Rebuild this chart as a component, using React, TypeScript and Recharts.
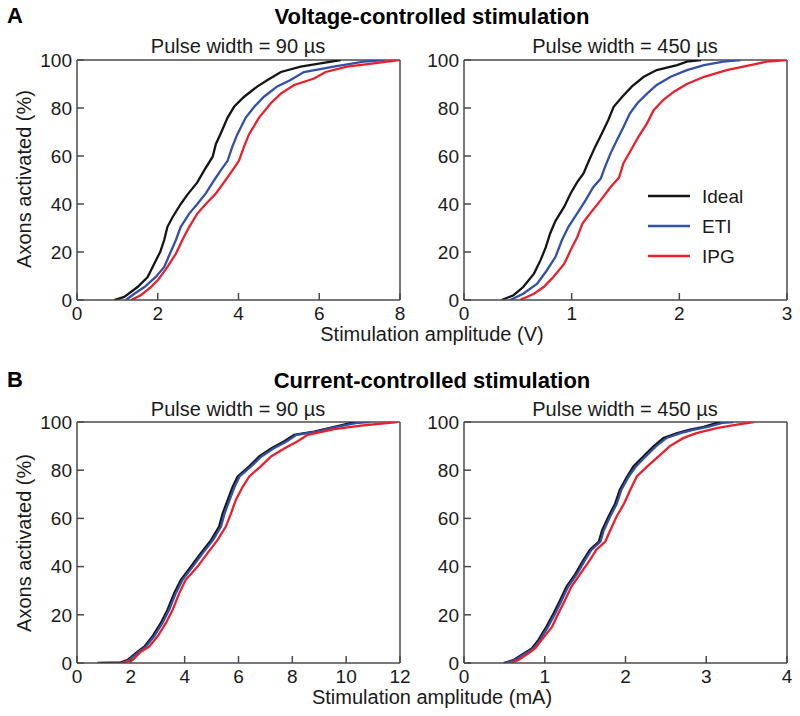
import React from 'react';
import { LineChart, Line, XAxis, YAxis, Legend, ReferenceLine } from 'recharts';

type Pt = [number, number];

// ---- data: [stimulation amplitude, % axons activated] ----
const seriesNames = ['Ideal', 'ETI', 'IPG'];

const voltage90Ideal: Pt[] = [[0.92,0],[1.17,1.3],[1.5,5.4],[1.75,9.6],[1.91,15],[2.06,20],[2.16,25],[2.24,30.5],[2.37,34.6],[2.57,40],[2.74,44],[2.98,49],[3.15,54],[3.36,59.7],[3.44,65],[3.56,69.4],[3.73,76],[3.89,80.5],[4.14,84.7],[4.47,89],[4.72,91.7],[5.05,95],[5.54,97.2],[6.03,98.6],[6.53,100]];
const voltage90Eti: Pt[] = [[1.21,0],[1.42,2.6],[1.67,5.4],[1.95,9.6],[2.16,13.8],[2.32,20],[2.45,25],[2.57,30.5],[2.78,36],[2.98,40],[3.19,44.4],[3.4,50],[3.56,54],[3.73,58],[3.85,64],[3.97,69],[4.18,76],[4.39,80.5],[4.63,84.7],[4.96,89],[5.29,91.7],[5.62,95],[6.36,97.2],[7.1,99.3],[7.6,100]];
const voltage90Ipg: Pt[] = [[1.34,0],[1.58,2],[1.83,5.4],[2.0,8.2],[2.24,13.8],[2.45,19.3],[2.61,25],[2.78,30.5],[2.98,36],[3.19,40],[3.44,44.4],[3.64,49],[3.85,54],[4.01,58],[4.14,64],[4.26,69],[4.51,76],[4.8,82],[5.05,86],[5.38,89.6],[5.87,92.3],[6.16,95],[6.69,97.2],[7.35,98.6],[7.97,100]];

const voltage450Ideal: Pt[] = [[0.35,0],[0.46,2],[0.55,5.4],[0.65,11],[0.71,16.5],[0.76,22],[0.8,27.7],[0.85,33],[0.93,38.8],[0.99,44.4],[1.05,49],[1.11,52.7],[1.16,58],[1.22,64],[1.28,69.4],[1.34,75],[1.39,80.5],[1.47,84.7],[1.56,89],[1.67,93],[1.79,95.8],[1.98,97.9],[2.07,99.3],[2.2,100]];
const voltage450Eti: Pt[] = [[0.43,0],[0.55,2.6],[0.68,6.8],[0.77,12.4],[0.85,18],[0.91,25],[0.97,30.5],[1.05,36],[1.13,41.6],[1.2,47],[1.27,50.6],[1.31,55.5],[1.36,61],[1.42,66.6],[1.48,72],[1.54,77.7],[1.61,82],[1.7,86],[1.79,89.6],[1.92,93],[2.07,95.8],[2.23,97.9],[2.41,99.3],[2.57,100]];
const voltage450Ipg: Pt[] = [[0.52,0],[0.65,2.6],[0.74,5.4],[0.83,9.6],[0.93,15],[0.99,20.7],[1.05,26],[1.1,31.8],[1.17,36],[1.27,41.6],[1.36,47],[1.44,51],[1.48,56.9],[1.55,62.4],[1.62,68],[1.7,73.6],[1.76,79],[1.85,83.3],[1.95,86.8],[2.07,90],[2.23,93],[2.44,95.8],[2.66,97.9],[2.81,99.3],[3.0,100]];

const current90Ideal: Pt[] = [[0.76,0],[1.63,0.3],[1.87,1.2],[2.25,4.7],[2.5,6.8],[2.8,11],[3.11,16.5],[3.36,22],[3.61,29],[3.86,34.5],[4.23,40],[4.6,45.6],[4.98,51],[5.28,56.6],[5.41,62],[5.6,67.7],[5.78,73],[5.97,77.4],[6.4,81.6],[6.77,85.7],[7.21,89],[7.7,92],[8.07,94.7],[8.81,96],[9.56,98],[10.18,99.6],[10.55,100]];
const current90Eti: Pt[] = [[1.7,0],[1.93,1.2],[2.31,4.7],[2.56,6.8],[2.86,11],[3.17,16.5],[3.42,22],[3.67,29],[3.92,34.5],[4.3,40],[4.67,45.6],[5.05,51],[5.35,56.6],[5.48,62],[5.67,67.7],[5.85,73],[6.04,77.4],[6.47,81.6],[6.85,85.7],[7.3,89],[7.8,92],[8.15,94.7],[8.9,96],[9.65,98],[10.4,99.6],[10.9,100]];
const current90Ipg: Pt[] = [[1.63,0],[2.06,1.2],[2.37,4.7],[2.68,6.8],[2.99,11],[3.3,16.5],[3.55,22],[3.8,29],[4.04,34.5],[4.48,40],[4.85,45.6],[5.22,51],[5.53,56.6],[5.72,62],[5.9,67.7],[6.15,73],[6.4,77.4],[6.83,81.6],[7.21,85.7],[7.7,89],[8.2,92],[8.57,94.7],[9.56,97],[10.55,98.5],[11.9,100]];

const current450Ideal: Pt[] = [[0.49,0],[0.61,1.2],[0.74,4],[0.84,6],[0.92,9.5],[1.02,15],[1.11,20.6],[1.19,26],[1.27,31.7],[1.38,37],[1.48,42.8],[1.56,47],[1.67,50.4],[1.71,55],[1.79,60.8],[1.87,66],[1.93,71.9],[2.02,77.4],[2.1,81.6],[2.22,85.7],[2.35,90],[2.47,93.4],[2.64,95.4],[2.8,96.8],[2.97,98],[3.13,99.6],[3.21,100]];
const current450Eti: Pt[] = [[0.51,0],[0.63,1.2],[0.76,4],[0.86,6],[0.94,9.5],[1.04,15],[1.13,20.6],[1.21,26],[1.29,31.7],[1.4,37],[1.5,42.8],[1.58,47],[1.69,50.4],[1.73,55],[1.81,60.8],[1.89,66],[1.95,71.9],[2.04,77.4],[2.13,81.6],[2.25,85.7],[2.38,90],[2.51,93.4],[2.68,95.4],[2.85,96.8],[3.02,98],[3.2,99.6],[3.34,100]];
const current450Ipg: Pt[] = [[0.57,0],[0.67,1.2],[0.8,4],[0.88,6],[0.96,9.5],[1.09,15],[1.17,20.6],[1.25,26],[1.33,31.7],[1.44,37],[1.56,42.8],[1.64,47],[1.75,50.4],[1.81,55],[1.89,60.8],[1.98,66],[2.06,71.9],[2.14,77.4],[2.27,81.6],[2.41,85.7],[2.55,90],[2.72,93.4],[2.88,95.4],[3.13,97.5],[3.38,98.9],[3.59,100]];

const yTicks = [0, 20, 40, 60, 80, 100];
const xTicksV90 = [0, 2, 4, 6, 8];
const xTicksV450 = [0, 1, 2, 3];
const xTicksC90 = [0, 2, 4, 6, 8, 10, 12];
const xTicksC450 = [0, 1, 2, 3, 4];

// ---- styles ----
const FONT = '"Liberation Sans", Arial, Helvetica, sans-serif';
const AX = '#4a4a4a';
const TXT = '#1a1a1a';
const colors = ['#151515', '#3150A6', '#E9202B'];

const toPoints = (pts: Pt[]) => pts.map(([x, y]) => ({ x, y }));

const XTick = (p: any) => (
  <g>
    <line x1={p.x} x2={p.x} y1={p.y} y2={p.y - 7} stroke={AX} strokeWidth={1.5} />
    <text x={p.x} y={p.y + 20} textAnchor="middle" fontSize={19} fill={TXT} fontFamily={FONT}>
      {p.payload.value}
    </text>
  </g>
);

const YTick = (p: any) => (
  <g>
    <line x1={p.x} x2={p.x + 7} y1={p.y} y2={p.y} stroke={AX} strokeWidth={1.5} />
    <text x={p.x - 5} y={p.y} dy="0.36em" textAnchor="end" fontSize={19} fill={TXT} fontFamily={FONT}>
      {p.payload.value}
    </text>
  </g>
);

const LegendContent = () => (
  <svg width={130} height={92} style={{ display: 'block' }}>
    {seriesNames.map((name, i) => (
      <g key={name}>
        <line x1={0} x2={42} y1={15 + 30 * i} y2={15 + 30 * i} stroke={colors[i]} strokeWidth={2.6} />
        <text x={54} y={15 + 30 * i} dy="0.36em" fontSize={19} fill={TXT} fontFamily={FONT}>
          {name}
        </text>
      </g>
    ))}
  </svg>
);

type PanelProps = {
  left: number; top: number; width: number; height: number;
  marginTop: number; marginRight: number; yAxisWidth: number; plotH: number;
  xMax: number; xTicks: number[]; series: Pt[][]; showLegend?: boolean;
};

function Panel(p: PanelProps) {
  const xAxisH = p.height - p.marginTop - p.plotH;
  return (
    <div style={{ position: 'absolute', left: p.left, top: p.top }}>
      <LineChart width={p.width} height={p.height} margin={{ top: p.marginTop, right: p.marginRight, bottom: 0, left: 0 }}>
        <XAxis
          type="number" dataKey="x" domain={[0, p.xMax]} ticks={p.xTicks} interval={0}
          allowDataOverflow height={xAxisH} tickSize={0} tickMargin={0} tickLine={false}
          axisLine={{ stroke: AX, strokeWidth: 1.5 }} tick={XTick}
        />
        <YAxis
          type="number" domain={[0, 100]} ticks={yTicks} interval={0} allowDataOverflow
          width={p.yAxisWidth} tickSize={0} tickMargin={0} tickLine={false}
          axisLine={{ stroke: AX, strokeWidth: 1.5 }} tick={YTick}
        />
        <ReferenceLine y={100} stroke={AX} strokeWidth={1.5} ifOverflow="visible" />
        <ReferenceLine x={p.xMax} stroke={AX} strokeWidth={1.5} ifOverflow="visible" />
        {p.series.map((s, i) => (
          <Line
            key={seriesNames[i]} name={seriesNames[i]} data={toPoints(s)} dataKey="y"
            type="linear" stroke={colors[i]} strokeWidth={2.3} dot={false}
            activeDot={false} isAnimationActive={false}
          />
        ))}
        {p.showLegend && (
          <Legend
            layout="vertical" align="center" verticalAlign="middle"
            wrapperStyle={{ left: 248, top: 181, width: 130, height: 92 }}
            content={LegendContent}
          />
        )}
      </LineChart>
    </div>
  );
}

export default function App() {
  return (
    <div style={{ position: 'absolute', left: 0, top: 0, width: 800, height: 716, background: '#fff', fontFamily: FONT }}>
      <Panel left={0} top={0} width={410} height={345} marginTop={60} marginRight={10} yAxisWidth={77} plotH={240}
        xMax={8} xTicks={xTicksV90} series={[voltage90Ideal, voltage90Eti, voltage90Ipg]} />
      <Panel left={400} top={0} width={400} height={345} marginTop={60} marginRight={13} yAxisWidth={64} plotH={240}
        xMax={3} xTicks={xTicksV450} series={[voltage450Ideal, voltage450Eti, voltage450Ipg]} showLegend />
      <Panel left={0} top={360} width={410} height={345} marginTop={62} marginRight={10} yAxisWidth={77} plotH={241}
        xMax={12} xTicks={xTicksC90} series={[current90Ideal, current90Eti, current90Ipg]} />
      <Panel left={400} top={360} width={400} height={345} marginTop={62} marginRight={13} yAxisWidth={64} plotH={241}
        xMax={4} xTicks={xTicksC450} series={[current450Ideal, current450Eti, current450Ipg]} />
      <svg width={800} height={716} style={{ position: 'absolute', left: 0, top: 0, pointerEvents: 'none' }} fontFamily={FONT}>
        <text x={7} y={23} fontSize={22} fontWeight="bold" fill="#000">A</text>
        <text x={432} y={24} fontSize={22} fontWeight="bold" fill="#000" textAnchor="middle">Voltage-controlled stimulation</text>
        <text x={238} y={53} fontSize={20} fill={TXT} textAnchor="middle">Pulse width = 90 µs</text>
        <text x={625} y={53} fontSize={20} fill={TXT} textAnchor="middle">Pulse width = 450 µs</text>
        <text x={432} y={341} fontSize={20} fill={TXT} textAnchor="middle">Stimulation amplitude (V)</text>
        <text x={31} y={179} fontSize={20} fill={TXT} textAnchor="middle" transform="rotate(-90 31 179)">Axons activated (%)</text>

        <text x={7} y={387} fontSize={22} fontWeight="bold" fill="#000">B</text>
        <text x={432} y={388} fontSize={22} fontWeight="bold" fill="#000" textAnchor="middle">Current-controlled stimulation</text>
        <text x={238} y={416} fontSize={20} fill={TXT} textAnchor="middle">Pulse width = 90 µs</text>
        <text x={625} y={416} fontSize={20} fill={TXT} textAnchor="middle">Pulse width = 450 µs</text>
        <text x={432} y={704} fontSize={20} fill={TXT} textAnchor="middle">Stimulation amplitude (mA)</text>
        <text x={31} y={543} fontSize={20} fill={TXT} textAnchor="middle" transform="rotate(-90 31 543)">Axons activated (%)</text>
      </svg>
    </div>
  );
}
